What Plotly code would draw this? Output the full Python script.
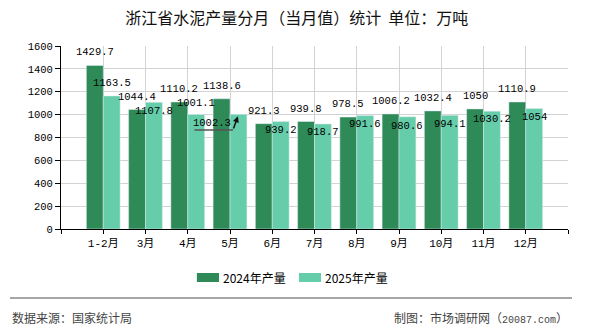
import plotly.graph_objects as go

categories = ["1-2月", "3月", "4月", "5月", "6月", "7月", "8月", "9月", "10月", "11月", "12月"]
v2024 = [1429.7, 1044.4, 1110.2, 1138.6, 921.3, 939.8, 978.5, 1006.2, 1032.4, 1050, 1110.9]
v2025 = [1163.5, 1107.8, 1001.1, 1002.3, 939.2, 918.7, 991.6, 980.6, 994.1, 1030.2, 1054]
series_names = ["2024年产量", "2025年产量"]
y_ticks = [0, 200, 400, 600, 800, 1000, 1200, 1400, 1600]

# label placement (pixel shifts) for the 2025 series
shift2025 = [12.5, -8.7, 12, -9, -8.5, -8.5, -8.7, -8.9, -9, -7.5, -8.8]
xshift2025 = [0, 0, 0, -26.5, 0, 0, 0, 0, 0, 0, 0]
leader_idx = 3

c_dark = "#2E8B57"
c_light = "#66CDAA"
num_font = "Liberation Mono, Noto Sans CJK SC"
cjk_font = "Noto Sans CJK SC"
bargap = 0.2
off = (1 - bargap) / 4

idx = list(range(len(categories)))
fig = go.Figure()
fig.add_trace(go.Bar(x=idx, y=v2024, name=series_names[0], marker_color=c_dark, showlegend=False))
fig.add_trace(go.Bar(x=idx, y=v2025, name=series_names[1], marker_color=c_light, showlegend=False))

ann = []
for i, v in zip(idx, v2024):
    ann.append(dict(x=i - off, y=v, xref="x", yref="y", text=f"{v:g}", showarrow=False,
                    yanchor="middle", yshift=13, font=dict(family=num_font, size=10.5, color="#000")))
for i, v in zip(idx, v2025):
    ann.append(dict(x=i + off, y=v, xref="x", yref="y", text=f"{v:g}", showarrow=False,
                    yanchor="middle", yshift=shift2025[i], xshift=xshift2025[i],
                    font=dict(family=num_font, size=10.5, color="#000")))
# leader line for the relocated label
li = leader_idx
ann.append(dict(x=idx[li] + off, y=v2025[li], xref="x", yref="y", text="", showarrow=True,
                ax=-5, ay=13.6, arrowhead=2, arrowsize=0.8, arrowwidth=1.5, arrowcolor="#111",
                xshift=-0.5, yshift=-2))
ann.append(dict(x=idx[li] + off, y=v2025[li], xref="x", yref="y", text="", showarrow=True,
                ax=-40, ay=0, arrowhead=0, arrowwidth=1.5, arrowcolor="#555",
                xshift=-5.5, yshift=-15.6))

# custom legend
leg = [(0.268, 0.3116, 0.3156, c_dark, series_names[0]), (0.4694, 0.5128, 0.5168, c_light, series_names[1])]
shapes = []
for x0, x1, xt, col, nm in leg:
    shapes.append(dict(type="rect", xref="paper", yref="paper", x0=x0, x1=x1, y0=-0.2896, y1=-0.2404,
                       fillcolor=col, line=dict(width=0)))
    ann.append(dict(x=xt, y=-0.265, xref="paper", yref="paper", text=nm, showarrow=False,
                    xanchor="left", yanchor="middle", font=dict(family=cjk_font, size=12, color="#000")))

# footer
shapes.append(dict(type="line", xref="paper", yref="paper", x0=-0.1006, x1=1.0079, y0=-0.377, y1=-0.377,
                   line=dict(color="#888", width=1.5)))
ann.append(dict(x=-0.1006, y=-0.481, xref="paper", yref="paper", text="数据来源：国家统计局", showarrow=False,
                xanchor="left", yanchor="middle", font=dict(family=cjk_font, size=12, color="#444")))
ann.append(dict(x=1.004, y=-0.481, xref="paper", yref="paper",
                text="制图：市场调研网（<span style=\"font-family:Liberation Mono;font-size:10px\">20087.com</span>）",
                showarrow=False, xanchor="right", yanchor="middle",
                font=dict(family=cjk_font, size=12, color="#444")))

fig.update_layout(
    width=590, height=330,
    margin=dict(l=61, r=22, t=46, b=101),
    paper_bgcolor="#fff", plot_bgcolor="#fff",
    barmode="group", bargap=bargap, bargroupgap=0,
    title=dict(text="浙江省水泥产量分月（当月值）统计  单位：万吨", x=0.503, xanchor="center",
               y=1 - 18 / 330, yanchor="middle", font=dict(family=cjk_font, size=16, color="#111")),
    annotations=ann, shapes=shapes,
)
fig.update_xaxes(range=[-1, len(categories)], tickmode="array",
                 tickvals=[-1] + idx + [len(categories)], ticktext=[""] + categories + [""],
                 showgrid=True, gridcolor="#d3d3d3", gridwidth=1,
                 showline=True, linecolor="#000", linewidth=1,
                 ticks="outside", ticklen=4, tickcolor="#000",
                 tickfont=dict(family=num_font, size=11, color="#000"), zeroline=False, fixedrange=True)
fig.update_yaxes(range=[0, 1600], tickvals=y_ticks, showgrid=True, gridcolor="#d3d3d3", gridwidth=1,
                 showline=True, linecolor="#000", linewidth=1,
                 ticks="outside", ticklen=5, tickcolor="#000",
                 tickfont=dict(family=num_font, size=10.5, color="#000"), zeroline=False)

fig.write_html("out.html")
